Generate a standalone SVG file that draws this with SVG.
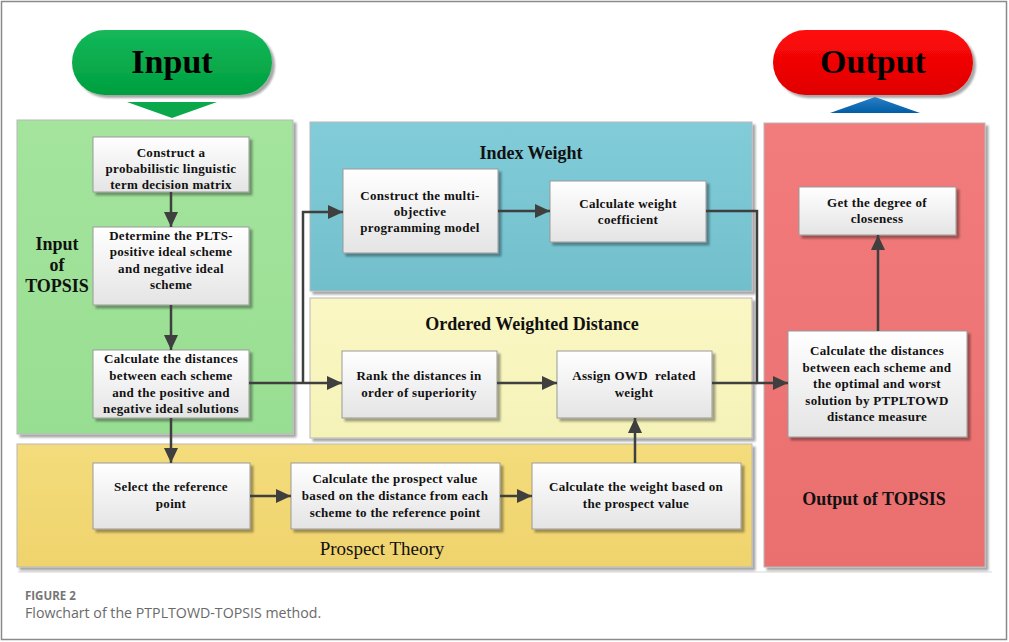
<svg xmlns="http://www.w3.org/2000/svg" width="1009" height="642" viewBox="0 0 1009 642">
<defs>
  <linearGradient id="gBox" x1="0" y1="0" x2="0" y2="1">
    <stop offset="0" stop-color="#ffffff"/>
    <stop offset="1" stop-color="#e4e4e4"/>
  </linearGradient>
  <linearGradient id="gGreen" x1="0" y1="0" x2="0" y2="1">
    <stop offset="0" stop-color="#14b85a"/>
    <stop offset="1" stop-color="#009f3e"/>
  </linearGradient>
  <linearGradient id="gRed" x1="0" y1="0" x2="0" y2="1">
    <stop offset="0" stop-color="#ff0a0a"/>
    <stop offset="1" stop-color="#e00000"/>
  </linearGradient>
  <linearGradient id="gBlueTri" x1="0" y1="0" x2="0" y2="1">
    <stop offset="0" stop-color="#2a7fc4"/>
    <stop offset="1" stop-color="#005ea6"/>
  </linearGradient>
  <linearGradient id="gPanelGreen" x1="0" y1="0" x2="0" y2="1">
    <stop offset="0" stop-color="#a4e49d"/>
    <stop offset="1" stop-color="#98de92"/>
  </linearGradient>
  <linearGradient id="gPanelBlue" x1="0" y1="0" x2="0" y2="1">
    <stop offset="0" stop-color="#82ccd9"/>
    <stop offset="1" stop-color="#72bfcc"/>
  </linearGradient>
  <linearGradient id="gPanelYellow" x1="0" y1="0" x2="0" y2="1">
    <stop offset="0" stop-color="#faf7c4"/>
    <stop offset="1" stop-color="#f5f2b8"/>
  </linearGradient>
  <linearGradient id="gPanelGold" x1="0" y1="0" x2="0" y2="1">
    <stop offset="0" stop-color="#f4dc7c"/>
    <stop offset="1" stop-color="#efd36c"/>
  </linearGradient>
  <linearGradient id="gPanelRed" x1="0" y1="0" x2="0" y2="1">
    <stop offset="0" stop-color="#f27b7b"/>
    <stop offset="1" stop-color="#ea6f6f"/>
  </linearGradient>
  <filter id="sh" x="-10%" y="-10%" width="130%" height="130%">
    <feGaussianBlur in="SourceAlpha" stdDeviation="1.2"/>
    <feOffset dx="2.5" dy="2.5" result="o"/>
    <feComponentTransfer><feFuncA type="linear" slope="0.35"/></feComponentTransfer>
    <feMerge><feMergeNode/><feMergeNode in="SourceGraphic"/></feMerge>
  </filter>
  <marker id="arr" markerUnits="userSpaceOnUse" markerWidth="16" markerHeight="16" viewBox="0 0 16 16" refX="15" refY="8" orient="auto">
    <path d="M0,1 L15,8 L0,15 Z" fill="#3f3f3f"/>
  </marker>
  <style>
    .box { fill: url(#gBox); stroke: #9a9a9a; stroke-width: 1; filter: url(#sh); }
    .panel { stroke: #b8b8b8; stroke-width: 1; filter: url(#sh); }
    .t { font-family: "Liberation Serif", "Times New Roman", serif; font-weight: bold; font-size: 13px; letter-spacing: 0.3px; fill: #111; text-anchor: middle; }
    .title { font-family: "Liberation Serif", "Times New Roman", serif; font-weight: bold; font-size: 18px; fill: #111; text-anchor: middle; }
    .big { font-family: "Liberation Serif", "Times New Roman", serif; font-weight: bold; font-size: 34px; fill: #000; text-anchor: middle; }
    .conn { fill: none; stroke: #3f3f3f; stroke-width: 2.5; }
    .cap1 { font-family: "Open Sans", "Liberation Sans", sans-serif; font-weight: bold; font-size: 11.5px; fill: #767676; }
    .cap2 { font-family: "Open Sans", "Liberation Sans", sans-serif; font-size: 14.2px; fill: #6a6a6a; }
  </style>
</defs>

<rect x="0" y="0" width="1009" height="642" fill="#ffffff"/>
<rect x="1.5" y="1.5" width="1005" height="638" fill="none" stroke="#8a8a8a" stroke-width="1.5"/>
<line x1="18" y1="572" x2="992" y2="572" stroke="#ececec" stroke-width="2"/>

<!-- Panels -->
<g id="panel-input-topsis">
  <rect class="panel" x="17" y="120" width="276" height="314" fill="url(#gPanelGreen)"/>
  <text class="title" x="57" y="250">Input</text>
  <text class="title" x="57" y="271">of</text>
  <text class="title" x="57" y="292">TOPSIS</text>
</g>
<g id="panel-index-weight">
  <rect class="panel" x="310" y="122" width="442" height="169" fill="url(#gPanelBlue)"/>
  <text class="title" x="531" y="159">Index Weight</text>
</g>
<g id="panel-owd">
  <rect class="panel" x="310" y="298" width="442" height="140" fill="url(#gPanelYellow)"/>
  <text class="title" x="532" y="330">Ordered Weighted Distance</text>
</g>
<g id="panel-prospect">
  <rect class="panel" x="17" y="444" width="735" height="123" fill="url(#gPanelGold)"/>
  <text x="382" y="555" font-family="Liberation Serif, Times New Roman, serif" font-size="19" fill="#111" text-anchor="middle">Prospect Theory</text>
</g>
<g id="panel-output-topsis">
  <rect class="panel" x="764" y="123" width="221" height="444" fill="url(#gPanelRed)"/>
  <text class="title" x="874" y="505">Output of TOPSIS</text>
</g>

<!-- Input / Output -->
<g id="input">
  <rect x="72" y="30" width="200" height="65" rx="32.5" fill="url(#gGreen)" filter="url(#sh)"/>
  <text class="big" x="172" y="73">Input</text>
  <polygon points="127,102 217,102 172,118" fill="#0aa84a"/>
</g>
<g id="output">
  <rect x="773" y="30" width="200" height="65" rx="32.5" fill="url(#gRed)" filter="url(#sh)"/>
  <text class="big" x="873" y="73">Output</text>
  <polygon points="830,113 920,113 875,97" fill="url(#gBlueTri)"/>
</g>

<!-- Nodes -->
<g id="n-construct-matrix">
  <rect class="box" x="93" y="137" width="156" height="55"/>
  <text class="t" x="171" y="157">Construct a</text>
  <text class="t" x="171" y="173">probabilistic linguistic</text>
  <text class="t" x="171" y="189">term decision matrix</text>
</g>
<g id="n-determine-plts">
  <rect class="box" x="93" y="227" width="156" height="78"/>
  <text class="t" x="171" y="240">Determine the PLTS-</text>
  <text class="t" x="171" y="256">positive ideal scheme</text>
  <text class="t" x="171" y="273">and negative ideal</text>
  <text class="t" x="171" y="289">scheme</text>
</g>
<g id="n-calc-distances">
  <rect class="box" x="93" y="350" width="156" height="68"/>
  <text class="t" x="171" y="363">Calculate the distances</text>
  <text class="t" x="171" y="380">between each scheme</text>
  <text class="t" x="171" y="397">and the positive and</text>
  <text class="t" x="171" y="413">negative ideal solutions</text>
</g>
<g id="n-construct-model">
  <rect class="box" x="343" y="169" width="155" height="84"/>
  <text class="t" x="420" y="200">Construct the multi-</text>
  <text class="t" x="420" y="216">objective</text>
  <text class="t" x="420" y="232">programming model</text>
</g>
<g id="n-weight-coef">
  <rect class="box" x="550" y="181" width="156" height="61"/>
  <text class="t" x="628" y="208">Calculate weight</text>
  <text class="t" x="628" y="224">coefficient</text>
</g>
<g id="n-rank">
  <rect class="box" x="342" y="351" width="155" height="67"/>
  <text class="t" x="419" y="380">Rank the distances in</text>
  <text class="t" x="419" y="397">order of superiority</text>
</g>
<g id="n-assign-owd">
  <rect class="box" x="557" y="351" width="155" height="67"/>
  <text class="t" x="634" y="380" xml:space="preserve">Assign OWD  related</text>
  <text class="t" x="634" y="397">weight</text>
</g>
<g id="n-select-ref">
  <rect class="box" x="93" y="463" width="157" height="66"/>
  <text class="t" x="171" y="491">Select the reference</text>
  <text class="t" x="171" y="508">point</text>
</g>
<g id="n-prospect-value">
  <rect class="box" x="291" y="463" width="209" height="66"/>
  <text class="t" x="395" y="483">Calculate the prospect value</text>
  <text class="t" x="395" y="500">based on the distance from each</text>
  <text class="t" x="395" y="517">scheme to the reference point</text>
</g>
<g id="n-weight-prospect">
  <rect class="box" x="532" y="463" width="209" height="66"/>
  <text class="t" x="636" y="491">Calculate the weight based on</text>
  <text class="t" x="636" y="508">the prospect value</text>
</g>
<g id="n-degree-closeness">
  <rect class="box" x="799" y="187" width="157" height="48"/>
  <text class="t" x="877" y="207">Get the degree of</text>
  <text class="t" x="877" y="223">closeness</text>
</g>
<g id="n-ptpltowd-distance">
  <rect class="box" x="788" y="331" width="179" height="106"/>
  <text class="t" x="877" y="355">Calculate the distances</text>
  <text class="t" x="877" y="372">between each scheme and</text>
  <text class="t" x="877" y="388">the optimal and worst</text>
  <text class="t" x="877" y="405">solution by PTPLTOWD</text>
  <text class="t" x="877" y="421">distance measure</text>
</g>

<!-- Connectors -->
<g id="connectors">
  <path class="conn" d="M171,192 V227" marker-end="url(#arr)"/>
  <path class="conn" d="M171,305 V350" marker-end="url(#arr)"/>
  <path class="conn" d="M249,383 H342" marker-end="url(#arr)"/>
  <path class="conn" d="M303,383 V212 H343" marker-end="url(#arr)"/>
  <path class="conn" d="M498,211 H550" marker-end="url(#arr)"/>
  <path class="conn" d="M706,211 H757 V383 H788" marker-end="url(#arr)"/>
  <path class="conn" d="M497,383 H557" marker-end="url(#arr)"/>
  <path class="conn" d="M712,383 H757"/>
  <path class="conn" d="M171,418 V463" marker-end="url(#arr)"/>
  <path class="conn" d="M250,496 H291" marker-end="url(#arr)"/>
  <path class="conn" d="M500,496 H532" marker-end="url(#arr)"/>
  <path class="conn" d="M635,463 V418" marker-end="url(#arr)"/>
  <path class="conn" d="M878,331 V235" marker-end="url(#arr)"/>
</g>

<!-- Caption -->
<text class="cap1" x="25" y="600">FIGURE 2</text>
<text class="cap2" x="25" y="618">Flowchart of the PTPLTOWD-TOPSIS method.</text>
</svg>
